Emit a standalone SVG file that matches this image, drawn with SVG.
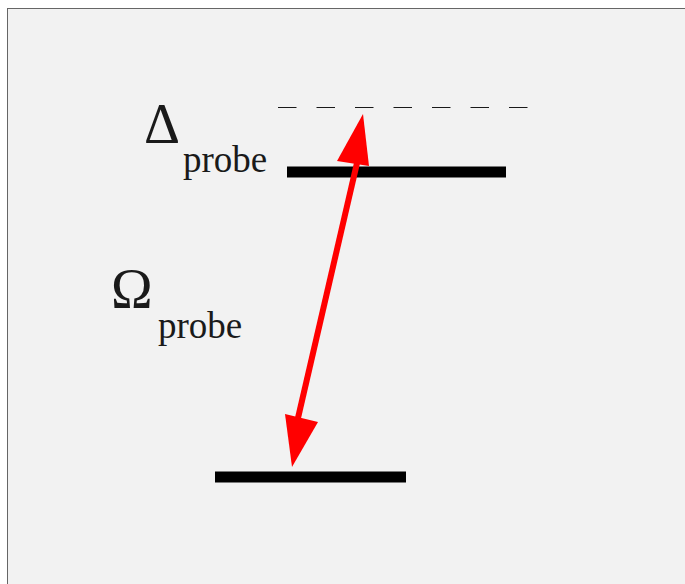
<svg xmlns="http://www.w3.org/2000/svg" width="685" height="584" viewBox="0 0 685 584">
<style>
.lvl{fill:#000}
.big{font-family:"Liberation Serif",serif;font-size:56px;fill:#1a1a1a}
.sub{font-family:"Liberation Serif",serif;font-size:37px;fill:#1a1a1a}
</style>
<defs>
<marker id="ah" markerUnits="userSpaceOnUse" markerWidth="34" markerHeight="54" refX="50" refY="17" viewBox="0 0 50 34" orient="auto-start-reverse">
<path d="M0,0 L50,17 L0,34 Z" fill="#ff0000"/>
</marker>
</defs>
<rect x="7.5" y="8.5" width="690" height="590" fill="#f2f2f2" stroke="#666" stroke-width="1"/>
<g id="virtual-level"><line x1="278" y1="107.5" x2="528" y2="107.5" stroke="#1a1a1a" stroke-width="1" stroke-dasharray="18.5 20"/></g>
<g id="upper-level"><rect class="lvl" x="287" y="166.5" width="219" height="11"/></g>
<g id="lower-level"><rect class="lvl" x="215" y="471.5" width="191" height="11"/></g>
<g id="label-delta"><text class="big" x="144" y="143">Δ</text><text class="sub" x="183" y="172">probe</text></g>
<g id="label-omega"><text class="big" x="111" y="308">Ω</text><text class="sub" x="158" y="338">probe</text></g>
<g id="connectors">
<line x1="298" y1="418" x2="357" y2="163" stroke="#ff0000" stroke-width="6"/>
<path d="M363,114 L369,166 L337,161 Z" fill="#ff0000"/>
<path d="M292,467 L285,414 L318,422 Z" fill="#ff0000"/>
</g>
</svg>
